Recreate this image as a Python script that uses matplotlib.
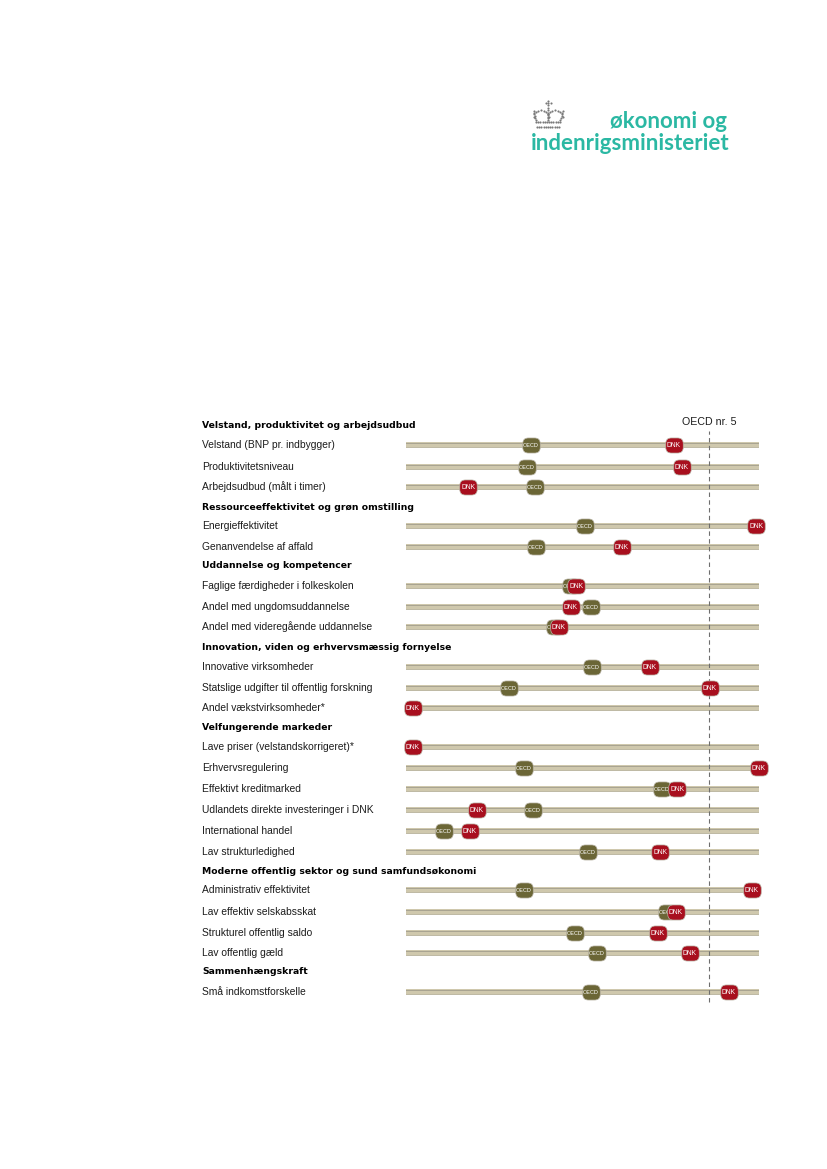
import numpy as np
import matplotlib.pyplot as plt
from matplotlib.path import Path

# rows top to bottom, None in the values means header row / no marker
labels = ['Velstand, produktivitet og arbejdsudbud', 'Velstand (BNP pr. indbygger)', 'Produktivitetsniveau',
          'Arbejdsudbud (målt i timer)', 'Ressourceeffektivitet og grøn omstilling', 'Energieffektivitet',
          'Genanvendelse af affald', 'Uddannelse og kompetencer', 'Faglige færdigheder i folkeskolen',
          'Andel med ungdomsuddannelse', 'Andel med videregående uddannelse',
          'Innovation, viden og erhvervsmæssig fornyelse', 'Innovative virksomheder',
          'Statslige udgifter til offentlig forskning', 'Andel vækstvirksomheder*', 'Velfungerende markeder',
          'Lave priser (velstandskorrigeret)*', 'Erhvervsregulering', 'Effektivt kreditmarked',
          'Udlandets direkte investeringer i DNK', 'International handel', 'Lav strukturledighed',
          'Moderne offentlig sektor og sund samfundsøkonomi', 'Administrativ effektivitet',
          'Lav effektiv selskabsskat', 'Strukturel offentlig saldo', 'Lav offentlig gæld', 'Sammenhængskraft',
          'Små indkomstforskelle']
is_header = [1, 0, 0, 0, 1, 0, 0, 1, 0, 0, 0, 1, 0, 0, 0, 1, 0, 0, 0, 0, 0, 0, 1, 0, 0, 0, 0, 1, 0]
oecd = [None, 35.4, 34.3, 36.5, None, 50.6, 36.8, None, 46.7, 52.4, 42.1, None, 52.6, 29.2, None, None, None,
        33.4, 72.4, 36.0, 10.7, 51.6, None, 33.4, 73.9, 47.9, 54.1, None, 52.4]
dnk = [None, 75.8, 78.2, 17.6, None, 99.2, 61.2, None, 48.2, 46.7, 43.3, None, 69.0, 86.1, 2.0, None, 2.0,
       100.0, 76.8, 20.1, 18.1, 72.0, None, 98.0, 76.4, 71.3, 80.4, None, 91.5]
oecd_nr5 = 85.8

# row centres on the page, in pixels from the top
row_y = [426, 445, 467, 487, 507, 526, 547, 566, 586, 607, 627, 648, 667, 688, 708, 728, 747, 768, 789, 810, 831,
         852, 871, 890, 912, 933, 953, 972, 992]

W, H = 827, 1169
fig = plt.figure(figsize=(W / 100, H / 100), dpi=100, facecolor='white')

# page axes for text and logo, pixel units
page = fig.add_axes([0, 0, 1, 1])
page.set_xlim(0, W)
page.set_ylim(H, 0)
page.axis('off')

# chart axes: 0-100 runs along the bar
ax = fig.add_axes([406 / W, 0, 353 / W, 1])
ax.set_xlim(0, 100)
ax.set_ylim(H, 0)
ax.axis('off')


def rounded(w, h, r):
    x, y = w / 2, h / 2
    verts = [(-x + r, -y), (x - r, -y), (x, -y), (x, -y + r), (x, y - r), (x, y), (x - r, y), (-x + r, y),
             (-x, y), (-x, y - r), (-x, -y + r), (-x, -y), (-x + r, -y), (-x + r, -y)]
    codes = [Path.MOVETO, Path.LINETO, Path.CURVE3, Path.CURVE3, Path.LINETO, Path.CURVE3, Path.CURVE3, Path.LINETO,
             Path.CURVE3, Path.CURVE3, Path.LINETO, Path.CURVE3, Path.CURVE3, Path.CLOSEPOLY]
    return Path(verts, codes)


box = rounded(1.0, 0.86, 0.32)


def badge(x, y, color, txt, z, size):
    ax.plot([x], [y], marker=box, ms=12.6, mfc=color, mec='#b9b4a6', mew=0.5, clip_on=False, zorder=z)
    ax.text(x, y + 0.3, txt, color='white', fontsize=size, ha='center', va='center', family='Liberation Sans',
            clip_on=False, zorder=z + 0.1)


for i in range(len(labels)):
    y = row_y[i]
    if is_header[i]:
        page.text(202, y, labels[i], fontsize=6.7, fontweight='bold', family='DejaVu Sans', va='center',
                  color='black')
        continue
    page.text(202, y, labels[i], fontsize=7.4, family='Liberation Sans', va='center', color='#1c1c1c')
    ax.barh(y, 100, left=0, height=5.5, color='#cfc8ad', zorder=1)
    ax.plot([0, 100], [y - 2.4, y - 2.4], color='#a8a391', lw=0.7, zorder=1)
    ax.plot([0, 100], [y + 2.4, y + 2.4], color='#bdb8a4', lw=0.6, zorder=1)

ax.axvline(oecd_nr5, ymin=1 - 1002 / H, ymax=1 - 431 / H, color='#6e6e6e', lw=0.8, ls=(0, (4, 3)), zorder=2)
ax.text(oecd_nr5, 422, 'OECD nr. 5', fontsize=7.7, family='Liberation Sans', ha='center', va='center',
        color='#1c1c1c')

for i in range(len(labels)):
    if oecd[i] is not None:
        badge(oecd[i], row_y[i], '#6b6636', 'OECD', 3, 4.0)
    if dnk[i] is not None:
        badge(dnk[i], row_y[i], '#a80f1e', 'DNK', 4, 4.9)

# logo
teal = '#2bb8a3'
page.text(727, 121, 'økonomi og', color=teal, fontsize=16, family='Lato', fontweight='bold', ha='right',
          va='center')
page.text(729, 143, 'indenrigsministeriet', color=teal, fontsize=16, family='Lato', fontweight='bold',
          ha='right', va='center')

# crown, small grey dots
t = np.linspace(0, np.pi, 9)
crown_x = np.concatenate([np.linspace(537, 559, 11), np.linspace(536, 560, 12), 541 + 7.5 * np.cos(t),
                          555 + 7.5 * np.cos(t), np.full(9, 548.0), np.array([545.5, 550.5]),
                          np.linspace(533.5, 536, 5), np.linspace(563, 560, 5)])
crown_y = np.concatenate([np.full(11, 126.5), np.full(12, 122.0), 117 - 7 * np.sin(t), 117 - 7 * np.sin(t),
                          np.linspace(100.5, 120, 9), np.array([103.0, 103.0]),
                          np.linspace(111, 120, 5), np.linspace(111, 120, 5)])
page.scatter(crown_x, crown_y, s=2.4, color='#7a7a7a', linewidths=0)

fig.savefig('out.png', dpi=100)
